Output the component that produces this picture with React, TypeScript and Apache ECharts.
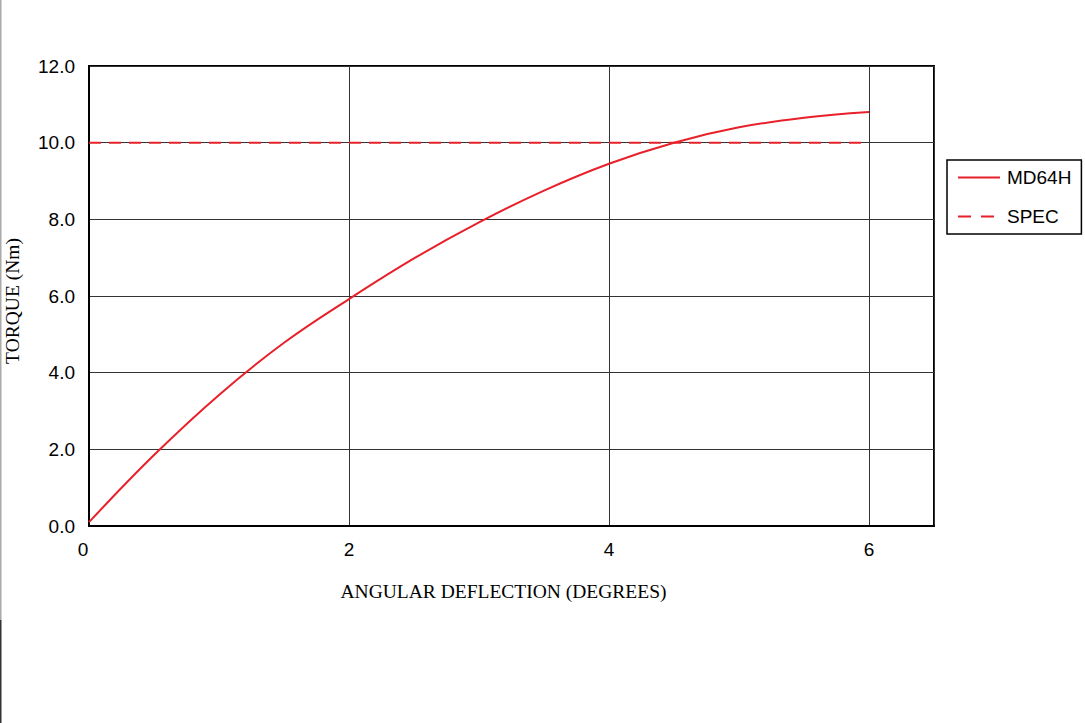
import React, { useEffect, useRef } from "react";
import * as echarts from "echarts";

const deflection = [0, 0.5, 1.0, 1.5, 2.0, 2.5, 3.0, 3.5, 4.0, 4.5, 5.0, 5.5, 6.0];
const torqueMD64H = [0.1, 1.85, 3.42, 4.78, 5.92, 6.98, 7.92, 8.75, 9.45, 10.0, 10.4, 10.65, 10.8];
const specX = [0, 6];
const specValue = [10, 10];
const xTicks = [0, 2, 4, 6];

export default function App() {
  const ref = useRef<HTMLDivElement>(null);
  useEffect(() => {
    if (!ref.current) return;
    const chart = echarts.init(ref.current, null, { renderer: "svg" });
    const red = "#e8202a";
    const sans = "Liberation Sans, Arial, sans-serif";
    const serif = "Liberation Serif, Times New Roman, serif";
    chart.setOption({
      animation: false,
      backgroundColor: "#ffffff",
      grid: {
        left: 89,
        right: 151,
        top: 66,
        bottom: 197,
        containLabel: false,
        outerBoundsMode: "none",
        show: true,
        borderColor: "#000",
        borderWidth: 2,
        backgroundColor: "transparent",
      },
      legend: {
        orient: "vertical",
        left: 947,
        top: 160,
        padding: [8, 10, 8, 10],
        borderColor: "#000",
        borderWidth: 1.5,
        itemWidth: 42,
        itemHeight: 14,
        itemGap: 20,
        itemStyle: { opacity: 0 },
        textStyle: { fontFamily: sans, fontSize: 19, color: "#000", padding: [0, 0, 0, 2] },
        data: [
          { name: "MD64H" },
          { name: "SPEC", lineStyle: { type: [13, 10], color: red, width: 2 } },
        ],
      },
      xAxis: {
        type: "value",
        min: 0,
        max: 6.5,
        interval: 2,
        name: "ANGULAR DEFLECTION (DEGREES)",
        nameLocation: "middle",
        nameGap: 55,
        nameTextStyle: { fontFamily: serif, fontSize: 19.5, color: "#000", padding: [0, 16, 0, 0] },
        axisLine: { show: true, lineStyle: { color: "#000", width: 2 } },
        axisTick: { show: false },
        axisLabel: {
          margin: 14,
          fontFamily: sans,
          fontSize: 19,
          color: "#000",
          formatter: (v: number) => (v === 0 ? "{z|0}" : xTicks.includes(v) ? String(v) : ""),
          rich: { z: { fontFamily: sans, fontSize: 19, color: "#000", padding: [0, 12, 0, 0] } },
        },
        splitLine: { show: true, lineStyle: { color: "#333", width: 1 } },
      },
      yAxis: {
        type: "value",
        min: 0,
        max: 12,
        interval: 2,
        name: "TORQUE (Nm)",
        nameLocation: "middle",
        nameGap: 67,
        nameTextStyle: { fontFamily: serif, fontSize: 19.5, color: "#000", padding: [0, 10, 0, 0] },
        axisLine: { show: true, lineStyle: { color: "#000", width: 2 } },
        axisTick: { show: false },
        axisLabel: {
          margin: 14,
          fontFamily: sans,
          fontSize: 19,
          color: "#000",
          formatter: (v: number) => v.toFixed(1),
        },
        splitLine: { show: true, lineStyle: { color: "#333", width: 1 } },
      },
      series: [
        {
          name: "MD64H",
          type: "line",
          smooth: 0.4,
          symbol: "none",
          color: red,
          lineStyle: { color: red, width: 2 },
          data: deflection.map((x, i) => [x, torqueMD64H[i]]),
          z: 3,
        },
        {
          name: "SPEC",
          type: "line",
          symbol: "none",
          color: red,
          lineStyle: { color: red, width: 2, type: [12, 8] },
          data: specX.map((x, i) => [x, specValue[i]]),
          z: 2,
        },
      ],
      graphic: [
        { type: "rect", left: 0, top: 0, shape: { width: 1.5, height: 620 }, style: { fill: "#aaa" } },
        { type: "rect", left: 0, top: 620, shape: { width: 1.5, height: 103 }, style: { fill: "#333" } },
      ],
    });
    return () => chart.dispose();
  }, []);
  return <div ref={ref} style={{ width: 1085, height: 723, position: "absolute", left: 0, top: 0 }} />;
}
